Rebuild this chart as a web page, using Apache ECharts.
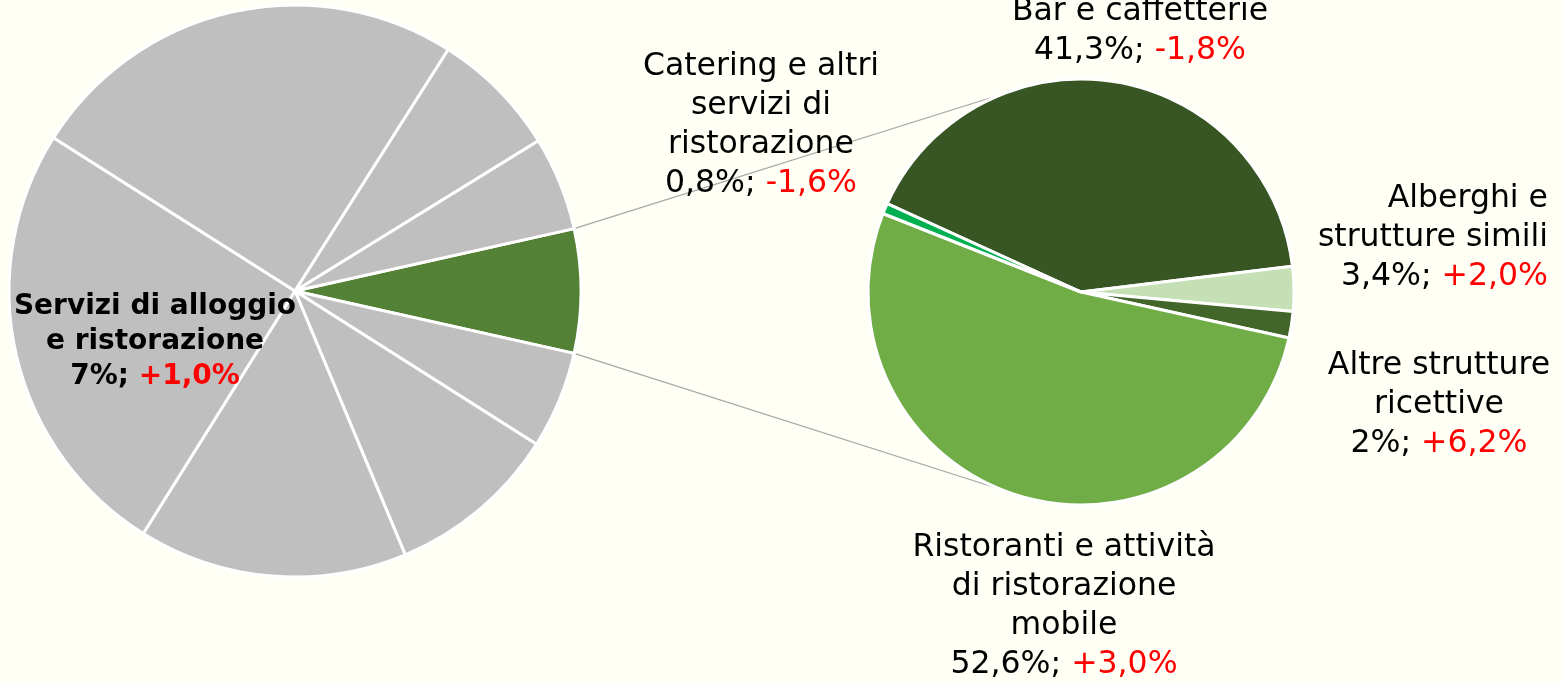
<!DOCTYPE html>
<html>
<head>
<meta charset="utf-8">
<script src="https://cdn.jsdelivr.net/npm/echarts@6/dist/echarts.min.js"></script>
<style>
  html, body { margin: 0; padding: 0; background: #FFFFF5; }
  #chart { width: 1562px; height: 683px; }
</style>
</head>
<body>
<div id="chart"></div>
<script>
  // left pie: economy split, only the highlighted sector is labelled
  const leftNames = ['Servizi di alloggio\ne ristorazione', 'Altro 1', 'Altro 2', 'Altro 3', 'Altro 4', 'Altro 5', 'Altro 6', 'Altro 7']
  const leftValues = [7, 5.5, 9.7, 15.2, 25.1, 25.0, 7.2, 5.3]
  const leftChange = '+1,0%'

  // right pie: breakdown of the highlighted sector
  const rightNames = [
    'Bar e caffetterie',
    'Alberghi e\nstrutture simili',
    'Altre strutture\nricettive',
    'Ristoranti e attività\ndi ristorazione\nmobile',
    'Catering e altri\nservizi di\nristorazione'
  ]
  const rightValues = [41.3, 3.4, 2, 52.6, 0.8]
  const rightChanges = ['-1,8%', '+2,0%', '+6,2%', '+3,0%', '-1,6%']

  const rightColors = ['#375623', '#C5E0B4', '#426629', '#70AD47', '#00B050']
  const leftColors = ['#538135', '#BFBFBF', '#BFBFBF', '#BFBFBF', '#BFBFBF', '#BFBFBF', '#BFBFBF', '#BFBFBF']

  // layout
  const L = { cx: 295, cy: 291, r: 286 }
  const R = { cx: 1081, cy: 292, r: 213 }
  const rightLabelPos = [
    { x: 1140, y: 31, align: 'center' },
    { x: 1548, y: 238, align: 'right' },
    { x: 1439, y: 405, align: 'center' },
    { x: 1064, y: 606, align: 'center' },
    { x: 761, y: 125, align: 'center' }
  ]
  const leftLabelPos = { x: 155, y: 342 }

  const fmt = v => String(v).replace('.', ',') + '%'
  const fontFamily = 'DejaVu Sans, Verdana, sans-serif'

  const leftSum = leftValues.reduce((a, b) => a + b, 0)
  const halfAngle = leftValues[0] / leftSum * 180
  const toRad = d => d * Math.PI / 180

  // connector lines from the highlighted slice to the second pie
  const joinAngle = 112
  const p1 = [L.cx + L.r * Math.cos(toRad(halfAngle)), L.cy - L.r * Math.sin(toRad(halfAngle))]
  const p2 = [L.cx + L.r * Math.cos(toRad(halfAngle)), L.cy + L.r * Math.sin(toRad(halfAngle))]
  const q1 = [R.cx + R.r * Math.cos(toRad(joinAngle)), R.cy - R.r * Math.sin(toRad(joinAngle))]
  const q2 = [R.cx + R.r * Math.cos(toRad(joinAngle)), R.cy + R.r * Math.sin(toRad(joinAngle))]

  const myChart = echarts.init(document.getElementById('chart'))
  myChart.setOption({
    backgroundColor: '#FFFFF5',
    animation: false,
    graphic: [
      { type: 'line', shape: { x1: p1[0], y1: p1[1], x2: q1[0], y2: q1[1] }, style: { stroke: '#A6A6A6', lineWidth: 1.2 }, z: 1 },
      { type: 'line', shape: { x1: p2[0], y1: p2[1], x2: q2[0], y2: q2[1] }, style: { stroke: '#A6A6A6', lineWidth: 1.2 }, z: 1 }
    ],
    series: [
      {
        type: 'pie',
        center: [L.cx, L.cy],
        radius: L.r,
        startAngle: halfAngle,
        clockwise: true,
        silent: true,
        emphasis: { disabled: true },
        itemStyle: { borderColor: '#FFFFFF', borderWidth: 3 },
        labelLine: { show: false },
        data: leftValues.map((v, i) => ({
          name: leftNames[i],
          value: v,
          itemStyle: { color: leftColors[i] },
          label: { show: i === 0 }
        })),
        label: {
          position: 'outside',
          overflow: 'none',
          fontFamily: fontFamily,
          fontSize: 28,
          fontWeight: 'bold',
          color: '#000',
          lineHeight: 35,
          align: 'center',
          formatter: p => p.name + '\n' + fmt(p.value) + '; {r|' + leftChange + '}',
          rich: {
            r: { color: '#FF0000', fontFamily: fontFamily, fontSize: 28, fontWeight: 'bold', lineHeight: 35 }
          }
        },
        labelLayout: () => ({ x: leftLabelPos.x, y: leftLabelPos.y, align: 'center', verticalAlign: 'middle' })
      },
      {
        type: 'pie',
        center: [R.cx, R.cy],
        radius: R.r,
        startAngle: 155.5,
        clockwise: true,
        silent: true,
        emphasis: { disabled: true },
        itemStyle: { borderColor: '#FFFFFF', borderWidth: 3 },
        labelLine: { show: false },
        data: rightValues.map((v, i) => ({
          name: rightNames[i],
          value: v,
          itemStyle: { color: rightColors[i] },
          label: { align: rightLabelPos[i].align }
        })),
        label: {
          position: 'outside',
          overflow: 'none',
          fontFamily: fontFamily,
          fontSize: 31.5,
          color: '#000',
          lineHeight: 39,
          formatter: p => p.name + '\n' + fmt(p.value) + '; {r|' + rightChanges[p.dataIndex] + '}',
          rich: {
            r: { color: '#FF0000', fontFamily: fontFamily, fontSize: 31.5, lineHeight: 39 }
          }
        },
        labelLayout: p => {
          const pos = rightLabelPos[p.dataIndex]
          return { x: pos.x, y: pos.y, align: pos.align, verticalAlign: 'middle' }
        }
      }
    ]
  })
</script>
</body>
</html>
